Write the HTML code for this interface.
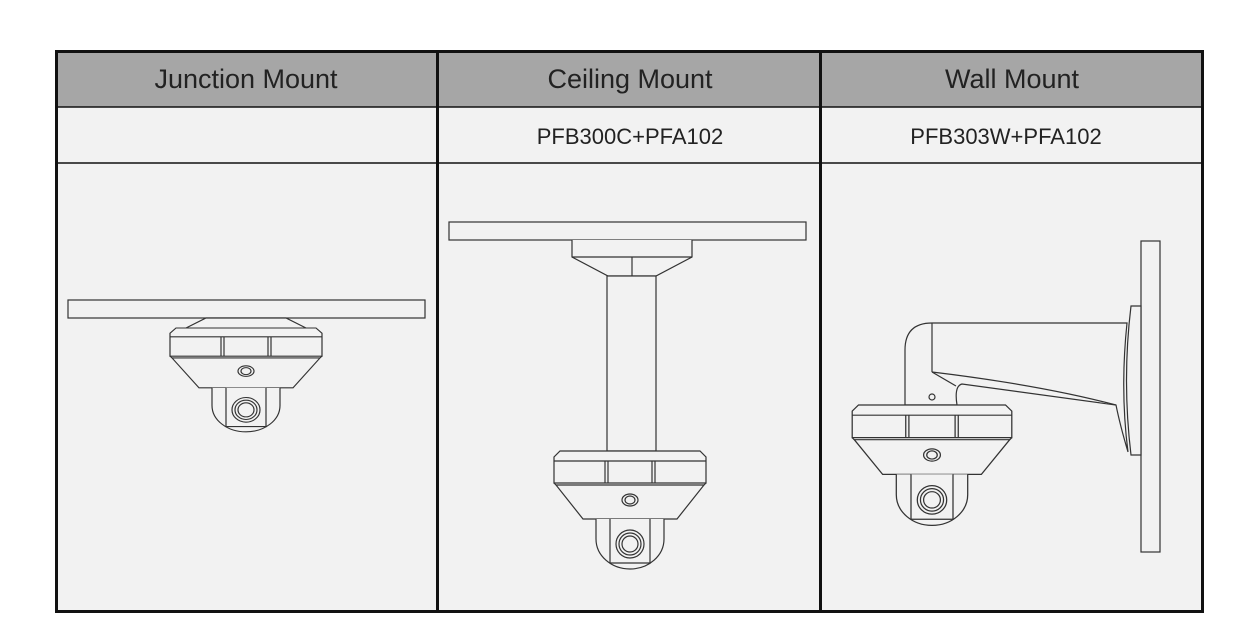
<!DOCTYPE html>
<html><head><meta charset="utf-8"><style>
body{margin:0;background:#fff;width:1255px;height:642px;overflow:hidden;font-family:"Liberation Sans",sans-serif}
svg{position:absolute;left:0;top:0}
</style></head><body>
<svg width="1255" height="642" viewBox="0 0 1255 642">
<defs>
<g id="cam" fill="#f2f2f2" stroke="#333" stroke-width="1.2">
<path d="M-70,0 H70 L76,6 V32 H-76 V6 Z"/>
<line x1="-76" y1="10" x2="76" y2="10"/>
<line x1="-25" y1="10" x2="-25" y2="32"/><line x1="-22" y1="10" x2="-22" y2="32"/>
<line x1="25" y1="10" x2="25" y2="32"/><line x1="22" y1="10" x2="22" y2="32"/>
<path d="M-74,34 H74 L47,68 H-47 Z"/>
<line x1="-76" y1="32" x2="-74" y2="34"/><line x1="76" y1="32" x2="74" y2="34"/>
<ellipse cx="0" cy="49" rx="8" ry="6"/><ellipse cx="0" cy="49" rx="5" ry="4"/>
<path d="M-34,68 V88 A34,30 0 0 0 34,88 V68"/>
<path d="M-20,68 V112 H20 V68"/>
<circle cx="0" cy="93" r="14"/><circle cx="0" cy="93" r="11"/><circle cx="0" cy="93" r="8"/>
</g>
</defs>
<rect x="55" y="50" width="1149" height="563" fill="#f2f2f2"/>
<rect x="55" y="50" width="1149" height="57" fill="#a6a6a6"/>
<g stroke="#111" stroke-width="3" fill="none">
<rect x="56.5" y="51.5" width="1146" height="560"/>
<line x1="437.5" y1="51" x2="437.5" y2="612"/>
<line x1="820.5" y1="51" x2="820.5" y2="612"/>
</g>
<g stroke="#111" stroke-width="1.5">
<line x1="55" y1="107" x2="1204" y2="107"/>
<line x1="55" y1="163" x2="1204" y2="163"/>
</g>
<g font-size="27" fill="#222" text-anchor="middle">
<text x="246" y="88">Junction Mount</text>
<text x="630" y="88">Ceiling Mount</text>
<text x="1012" y="88">Wall Mount</text>
</g>
<g font-size="22" fill="#222" text-anchor="middle">
<text x="630" y="144">PFB300C+PFA102</text>
<text x="1006" y="144">PFB303W+PFA102</text>
</g>
<g fill="#f2f2f2" stroke="#333" stroke-width="1.2">
<rect x="68" y="300" width="357" height="18"/>
<path d="M186,328 L206,318 H286 L306,328"/>
<rect x="449" y="222" width="357" height="18"/>
<path d="M572,240 V257 L608,276 H656 L692,257 V240"/>
<line x1="572" y1="257" x2="692" y2="257"/><line x1="632" y1="257" x2="632" y2="276"/>
<rect x="607" y="276" width="49" height="175"/>
<rect x="1141" y="241" width="19" height="311"/>
<path d="M1141,306 H1131 Q1122,380 1131,455 H1141 Z"/>
<path d="M905,405 V350 Q905,323 932,323 H1127 Q1120,390 1128,452 Q1120,425 1116,405 L962,384 Q954,386 957,405 Z"/>
<line x1="932" y1="323" x2="932" y2="372"/>
<path d="M932,372 Q1040,385 1116,405"/>
<path d="M932,372 L956,386"/>
<circle cx="932" cy="397" r="3"/>
</g>
<use href="#cam" transform="translate(246,328) scale(1,0.88)"/>
<use href="#cam" transform="translate(630,451)"/>
<use href="#cam" transform="translate(932,405) scale(1.05,1.02)"/>
</svg>
</body></html>
